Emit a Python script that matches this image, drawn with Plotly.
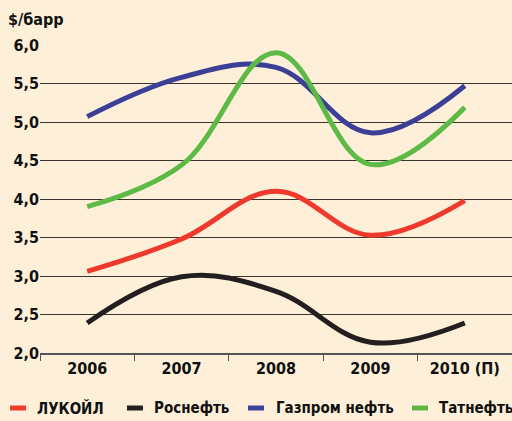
import plotly.graph_objects as go

years = ["2006", "2007", "2008", "2009", "2010 (П)"]
lukoil = [3.06, 3.48, 4.10, 3.53, 3.98]
rosneft = [2.39, 2.99, 2.80, 2.14, 2.39]
gazprom = [5.07, 5.58, 5.71, 4.86, 5.47]
tatneft = [3.90, 4.44, 5.90, 4.45, 5.19]

names = ["ЛУКОЙЛ", "Роснефть", "Газпром нефть", "Татнефть"]
colors = ["#ee3a2c", "#231f20", "#3c3f96", "#5dba47"]
series = [lukoil, rosneft, gazprom, tatneft]

ytick_vals = [2.0, 2.5, 3.0, 3.5, 4.0, 4.5, 5.0, 5.5, 6.0]
ytick_text = ["2,0", "2,5", "3,0", "3,5", "4,0", "4,5", "5,0", "5,5", "6,0"]

FONT = "DejaVu Sans Condensed, Liberation Sans Narrow, sans-serif"
W, H = 512, 421
L, R, T, B = 40, 0, 45, 68
PW, PH = W - L - R, H - T - B
BG = "#fef0d8"


def px_x(x):
    return (x - L) / PW


def px_y(y):
    return (H - B - y) / PH


fig = go.Figure()
for n, c, s in zip(names, colors, series):
    fig.add_trace(go.Scatter(x=years, y=s, name=n, mode="lines",
                             line=dict(color=c, width=5, shape="spline", smoothing=1.1)))

# manual legend (swatch start px, text start px)
legend_pos = [(8, 35), (125, 152), (246, 274), (410, 437)]
shapes = []
annotations = []
leg_y = 408
for (sx, tx), n, c in zip(legend_pos, names, colors):
    shapes.append(dict(type="line", xref="paper", yref="paper",
                       x0=px_x(sx + 2), x1=px_x(sx + 18), y0=px_y(leg_y), y1=px_y(leg_y),
                       line=dict(color=c, width=5)))
    annotations.append(dict(text=n, xref="paper", yref="paper", x=px_x(tx), y=px_y(leg_y),
                            xanchor="left", yanchor="middle", showarrow=False,
                            font=dict(family=FONT, size=15, weight="bold", color="#111111")))

annotations.append(dict(text="$/барр", x=px_x(6), y=px_y(20), xref="paper", yref="paper",
                        xanchor="left", yanchor="middle", showarrow=False,
                        font=dict(family=FONT, size=16, weight="bold", color="#111111")))

fig.update_layout(
    width=W, height=H,
    paper_bgcolor=BG, plot_bgcolor=BG,
    margin=dict(l=L, r=R, t=T, b=B),
    font=dict(family=FONT, size=16, color="#111111", weight="bold"),
    showlegend=False,
    xaxis=dict(type="category", range=[-0.5, 4.5], showgrid=False, automargin=False,
               showline=True, linecolor="#555555", linewidth=1.5,
               ticks="outside", tickson="boundaries", ticklen=6, tickcolor="#555555",
               tickfont=dict(family=FONT, size=16, weight="bold")),
    yaxis=dict(range=[2.0, 6.0], tickvals=ytick_vals, ticktext=ytick_text, automargin=False,
               showgrid=True, gridcolor="#3a3430", gridwidth=1, zeroline=False,
               showline=False, ticks="",
               tickfont=dict(family=FONT, size=16, weight="bold")),
    shapes=shapes,
    annotations=annotations,
)

fig.write_html("out.html", config={"displayModeBar": False},
               post_script="document.body.style.margin='0';document.body.style.padding='0';"
                           "document.body.style.background='" + BG + "';")
